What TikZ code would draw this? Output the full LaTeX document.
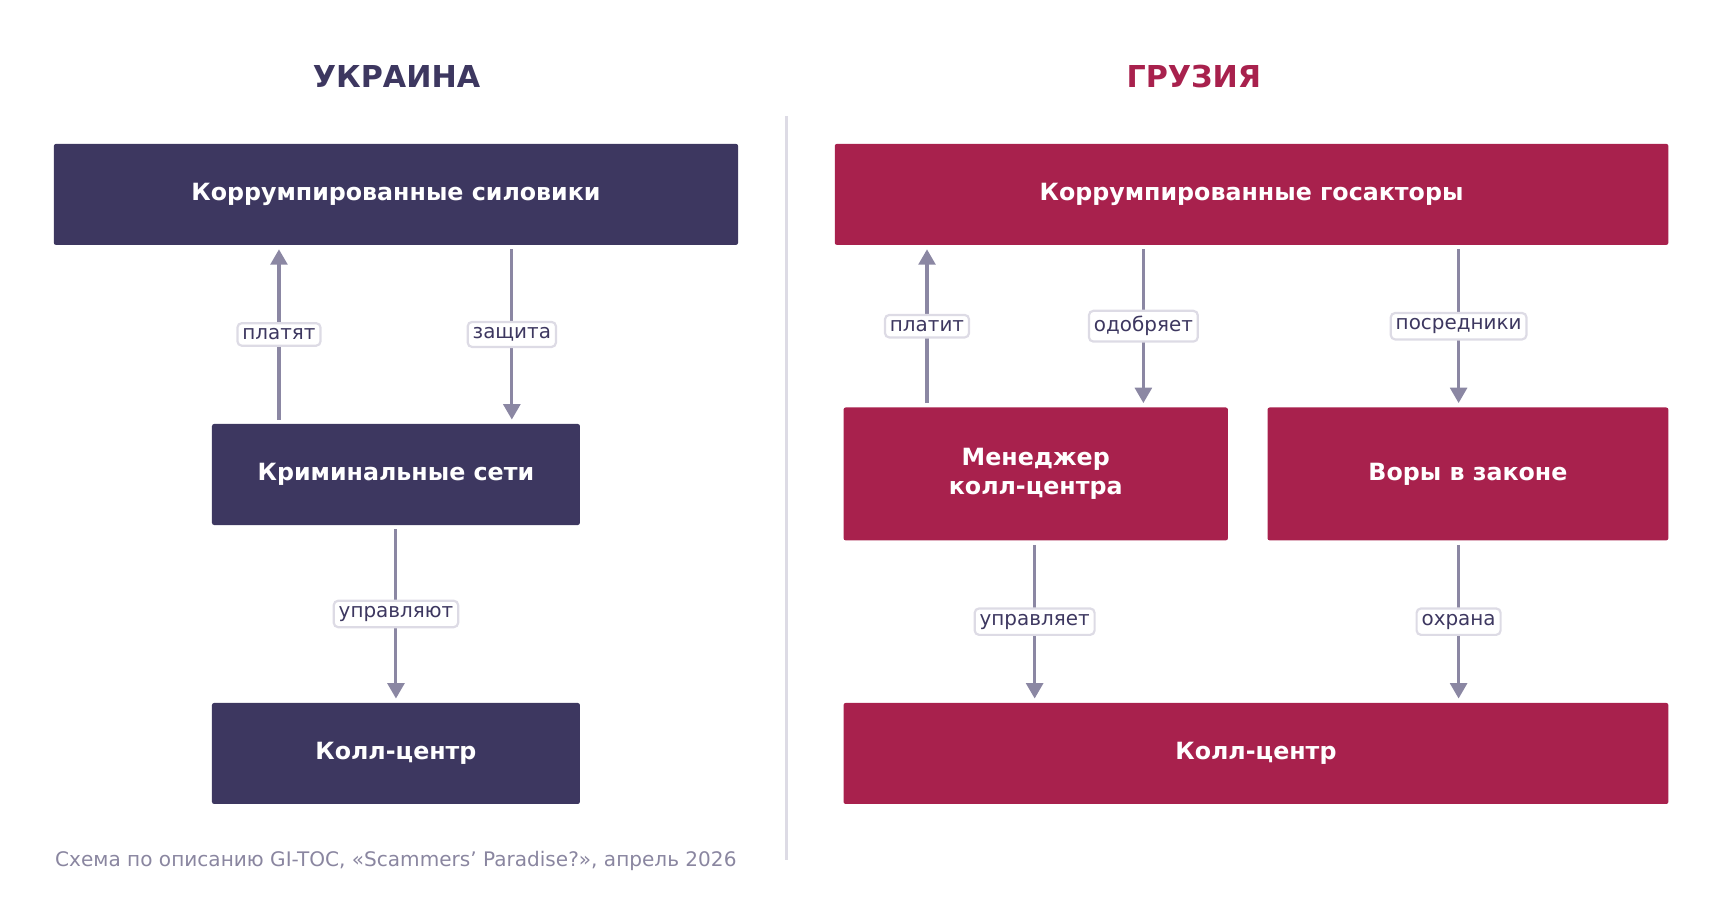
\documentclass[tikz,border=0pt]{standalone}
\usepackage{fontspec}
\setmainfont{DejaVu Sans}
\usetikzlibrary{arrows.meta}

\definecolor{ink}{HTML}{3D3760}
\definecolor{wine}{HTML}{A8214D}
\definecolor{wire}{HTML}{8B87A3}
\definecolor{rim}{HTML}{DDDBE5}
\definecolor{note}{HTML}{8A86A0}

\begin{document}
\begin{tikzpicture}[x=0.75pt, y=-0.75pt,
    main/.style = {inner sep=0pt, outer sep=0pt, rounded corners=1.5pt, text=white,
        font=\fontsize{16.2}{20}\selectfont\bfseries, align=center, minimum height=69pt},
    ua/.style = {main, fill=ink},
    ge/.style = {main, fill=wine},
    head/.style = {font=\fontsize{20.6}{25}\selectfont\bfseries},
    arr/.style = {draw=wire, line width=2.1pt, shorten <=3pt, shorten >=3pt,
        -{Triangle[width=11.5pt, length=10.5pt]}},
    lab/.style = {draw=rim, line width=1.5pt, fill=white, rounded corners=3pt, text=ink,
        font=\fontsize{13.6}{16}\selectfont, inner xsep=3.4pt, inner ysep=3.8pt}]
    \useasboundingbox (0,0) rectangle (1566,837);

    \node[head, text=ink] (t1) at (361,70) {УКРАИНА};
    \node[head, text=wine] (t2) at (1087,70) {ГРУЗИЯ};
    \draw[rim, line width=1.5pt] (716,106) -- (716,783);

    % Ukraine
    \node[ua, minimum width=467.25pt] (1) at (360.5,177) {Коррумпированные силовики};
    \node[ua, minimum width=251.25pt] (2) at (360.5,432) {Криминальные сети};
    \node[ua, minimum width=251.25pt] (3) at (360.5,686) {Колл-центр};

    \draw[arr] (2.north -| 254,0) -- node[lab] {платят} (1.south -| 254,0);
    \draw[arr] (1.south -| 466,0) -- node[lab] {защита} (2.north -| 466,0);
    \draw[arr] (2) -- node[lab] {управляют} (3);

    % Georgia
    \node[ge, minimum width=569.25pt] (4) at (1139.5,177) {Коррумпированные госакторы};
    \node[ge, minimum width=262.5pt, minimum height=90.75pt] (5) at (943,431.5) {Менеджер\\колл-центра};
    \node[ge, minimum width=273.75pt, minimum height=90.75pt] (6) at (1336.5,431.5) {Воры в законе};
    \node[ge, minimum width=563.25pt] (7) at (1143.5,686) {Колл-центр};

    \draw[arr] (5.north -| 844,0) -- node[lab] {платит} (4.south -| 844,0);
    \draw[arr] (4.south -| 1041,0) -- node[lab] {одобряет} (5.north -| 1041,0);
    \draw[arr] (4.south -| 1328,0) -- node[lab] {посредники} (6.north -| 1328,0);
    \draw[arr] (5.south -| 942,0) -- node[lab] {управляет} (7.north -| 942,0);
    \draw[arr] (6.south -| 1328,0) -- node[lab] {охрана} (7.north -| 1328,0);

    \node[anchor=west, text=note, font=\fontsize{13.7}{16}\selectfont, inner sep=0pt] (n) at (50,784)
        {Схема по описанию GI-TOC, «Scammers’ Paradise?», апрель 2026};
\end{tikzpicture}
\end{document}
